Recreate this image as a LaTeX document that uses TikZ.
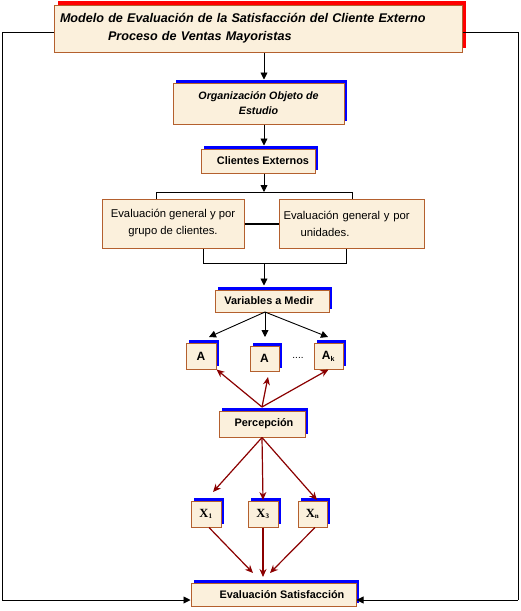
\documentclass[tikz,border=0pt]{standalone}
\usepackage{fontspec}
\setmainfont{Liberation Sans}
\newfontfamily\serifbf{Liberation Serif}
\usetikzlibrary{shadows,arrows.meta}
\definecolor{boxfill}{HTML}{FBF0DC}
\definecolor{boxline}{HTML}{B4602E}
\definecolor{darkred}{HTML}{8B0000}
\definecolor{shblue}{HTML}{0000FF}
\definecolor{shred}{HTML}{FF0000}
\begin{document}
\begin{tikzpicture}[x=1pt,y=-1pt,
  box/.style={draw=boxline, fill=boxfill, line width=1pt, inner sep=0pt,
    general shadow={fill=shblue, shadow xshift=3pt, shadow yshift=3pt}},
  plainbox/.style={draw=boxline, fill=boxfill, line width=1pt, inner sep=0pt},
  titlebox/.style={draw=boxline, fill=boxfill, line width=1pt, inner ysep=0pt,
    general shadow={fill=shred, shadow xshift=4pt, shadow yshift=4pt}},
  blk/.style={draw=black, line width=0.9pt},
  barr/.style={blk, -{Triangle[length=7pt,width=7pt]}},
  rarr/.style={draw=darkred, line width=1.2pt, -{Stealth[length=8pt,width=7pt]}},
  bfont/.style={font=\bfseries\fontsize{10.9}{13}\selectfont},
  lbl/.style={font=\bfseries\fontsize{12}{13}\selectfont},
  xlbl/.style={font=\serifbf\bfseries\fontsize{12.5}{13}\selectfont}
]
\useasboundingbox[fill=white] (0,0) rectangle (520,611);

% boxes
\node[titlebox, text width=396pt, inner xsep=6pt, minimum height=47pt, align=left,
  font=\bfseries\itshape\fontsize{12.6}{18}\selectfont] (title) at (258,28.5)
  {Modelo de Evaluación de la Satisfacción del Cliente Externo\\\hspace*{48pt}Proceso de Ventas Mayoristas};
\node[box, minimum width=171pt, minimum height=41pt, align=center,
  font=\bfseries\itshape\fontsize{10.7}{15}\selectfont] (org) at (258.5,103.5)
  {Organización Objeto de\\Estudio};
\node[box, minimum width=114pt, minimum height=24pt, bfont] (cli) at (258,161) {\hspace*{10pt}Clientes Externos};
\node[plainbox, minimum width=142pt, minimum height=49pt, align=center,
  font=\fontsize{11.3}{17}\selectfont] (ev1) at (173,223.5)
  {Evaluación general y por\\grupo de clientes.};
\node[plainbox, text width=137pt, inner xsep=4pt, minimum height=49pt, align=left,
  font=\fontsize{11.3}{17}\selectfont] (ev2) at (352,223.5)
  {Evaluación general y por\\\hspace*{17pt}unidades.};
\node[box, minimum width=114pt, minimum height=22pt, bfont] (var) at (272,301) {Variables a Medir\hspace*{6pt}};
\node[box, minimum width=30pt, minimum height=26pt, lbl] (a1) at (201,356) {A};
\node[box, minimum width=29pt, minimum height=25pt, lbl] (a2) at (264.5,358.5) {A};
\node[box, minimum width=29pt, minimum height=26pt, lbl] (ak) at (328.5,356) {A\textsubscript{\fontsize{7}{7}\selectfont k}};
\node[font=\fontsize{10}{10}\selectfont] (dots) at (298,358) {....};
\node[box, minimum width=86pt, minimum height=26pt, bfont] (perc) at (262,424) {\hspace*{4pt}Percepción};
\node[box, minimum width=30pt, minimum height=26pt, xlbl] (x1) at (206,514) {X\textsubscript{\fontsize{7}{7}\selectfont 1}};
\node[box, minimum width=30pt, minimum height=26pt, xlbl] (x3) at (263,514) {X\textsubscript{\fontsize{7}{7}\selectfont 3}};
\node[box, minimum width=29pt, minimum height=26pt, xlbl] (xn) at (312.5,514) {X\textsubscript{\fontsize{7}{7}\selectfont n}};
\node[box, minimum width=165pt, minimum height=23pt, bfont] (evs) at (273.5,594.5) {\hspace*{17pt}Evaluación Satisfacción};

% helper coordinates
\coordinate (cx) at (264,0);
\coordinate (split) at (264,192);
\coordinate (join) at (264,263);
\coordinate (vb) at (265,312);
\coordinate (pt) at (262,407);
\coordinate (lx) at (2,0);
\coordinate (rx) at (518,0);
\coordinate (ly) at (0,32);
\coordinate (by) at (0,600);

% main black flow
\draw[barr] (title.south -| cx) -- ([yshift=3pt]org.north -| cx);
\draw[barr] (org.south -| cx) -- ([yshift=3pt]cli.north -| cx);
\draw[barr] (cli.south -| cx) -- (split);
\draw[blk] (156,192) -- (352,192);
\draw[blk] (156,192) -- (ev1.north -| 156,0);
\draw[blk] (352,192) -- (ev2.north -| 352,0);
\draw[draw=black, line width=2pt] (ev1.east) -- (ev2.west);
\draw[blk] (ev1.south -| 203,0) -- (203,263) -- (346,263) -- (ev2.south -| 346,0);
\draw[barr] (join) -- ([yshift=4pt]var.north -| cx);
\draw[barr] (vb) -- (209,337);
\draw[barr] (vb) -- (265,337);
\draw[barr] (vb) -- (328,337);

% feedback loop
\draw[blk] (title.west |- ly) -- (lx |- ly) -- (lx |- by);
\draw[barr] (lx |- by) -- (evs.west |- by);
\draw[blk] (title.east |- ly) -- (rx |- ly) -- (rx |- by);
\draw[barr] (rx |- by) -- (evs.east |- by);

% dark red flow
\draw[rarr] (pt) -- (a1.south east);
\draw[rarr] (pt) -- (268,377);
\draw[rarr] (pt) -- (ak.south);
\draw[rarr] (perc.south) -- (213,492);
\draw[rarr] (perc.south) -- (263,500);
\draw[rarr] (perc.south) -- (317,500);
\draw[rarr] (x1.south -| 209,0) -- (253,573);
\draw[rarr] (x3.south) -- (263,577);
\draw[rarr] (xn.south -| 315,0) -- (270,573);
\end{tikzpicture}
\end{document}
